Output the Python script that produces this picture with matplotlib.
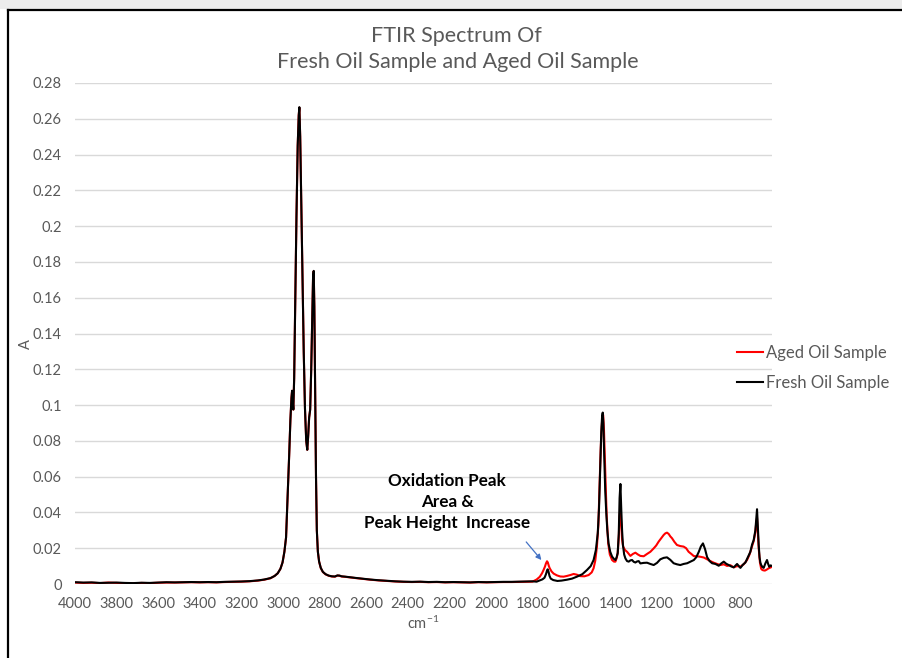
import matplotlib
matplotlib.use("Agg")
import matplotlib.pyplot as plt
from matplotlib.lines import Line2D
from matplotlib.patches import Rectangle

plt.rcParams['font.family'] = ['Lato', 'DejaVu Sans']
plt.rcParams['mathtext.fontset'] = 'custom'
plt.rcParams['mathtext.rm'] = 'Lato'
plt.rcParams['mathtext.it'] = 'Lato:italic'

# ---------------- data ----------------
title_lines = ["FTIR Spectrum Of", "Fresh Oil Sample and Aged Oil Sample"]
series_names = ["Aged Oil Sample", "Fresh Oil Sample"]
x_label = "cm$^{-1}$"
y_label = "A"
x_ticks = [4000, 3800, 3600, 3400, 3200, 3000, 2800, 2600, 2400, 2200,
           2000, 1800, 1600, 1400, 1200, 1000, 800]
y_ticks = [0, 0.02, 0.04, 0.06, 0.08, 0.1, 0.12, 0.14, 0.16, 0.18, 0.2,
           0.22, 0.24, 0.26, 0.28]
y_tick_labels = ["0", "0.02", "0.04", "0.06", "0.08", "0.1", "0.12", "0.14",
                 "0.16", "0.18", "0.2", "0.22", "0.24", "0.26", "0.28"]
annotation_text = "Oxidation Peak\nArea &\nPeak Height  Increase"

# high-wavenumber region (both samples nearly identical)
wn_high = [4000, 3960, 3920, 3880, 3840, 3800, 3760, 3720, 3680, 3640, 3600,
           3560, 3520, 3480, 3440, 3400, 3360, 3320, 3280, 3240, 3200, 3160,
           3120, 3090, 3060, 3040, 3025, 3012, 3002, 2993, 2985, 2977, 2970,
           2964, 2959, 2956, 2953, 2950, 2946, 2941, 2935, 2929, 2924, 2921,
           2917, 2912, 2906, 2900, 2894, 2888, 2883, 2879, 2874, 2869, 2864,
           2859, 2855, 2852, 2849, 2845, 2841, 2837, 2832, 2826, 2818, 2808,
           2795, 2780, 2765, 2750, 2738, 2728, 2718, 2700, 2680, 2650, 2620,
           2580, 2540, 2500, 2460, 2420, 2380, 2340, 2300, 2260, 2220, 2180,
           2140, 2100, 2060, 2020, 1980, 1940, 1900, 1860, 1820]
fresh_a_high = [0.0010, 0.0008, 0.0009, 0.0006, 0.0007, 0.0008, 0.0006, 0.0005,
                0.0007, 0.0006, 0.0008, 0.0010, 0.0009, 0.0010, 0.0011, 0.0010,
                0.0011, 0.0010, 0.0012, 0.0013, 0.0014, 0.0016, 0.0020, 0.0025,
                0.0033, 0.0045, 0.0060, 0.0085, 0.0120, 0.0180, 0.0260, 0.0500,
                0.0720, 0.0920, 0.1040, 0.1080, 0.1020, 0.0975, 0.1150, 0.1550,
                0.2050, 0.2450, 0.2620, 0.2665, 0.2500, 0.2150, 0.1700, 0.1300,
                0.0980, 0.0800, 0.0750, 0.0820, 0.0930, 0.0975, 0.1200, 0.1500,
                0.1720, 0.1750, 0.1550, 0.1050, 0.0600, 0.0300, 0.0180, 0.0125,
                0.0090, 0.0068, 0.0055, 0.0047, 0.0043, 0.0042, 0.0048, 0.0047,
                0.0043, 0.0041, 0.0038, 0.0034, 0.0030, 0.0025, 0.0021, 0.0018,
                0.0015, 0.0013, 0.0012, 0.0013, 0.0011, 0.0012, 0.0010, 0.0011,
                0.0010, 0.0009, 0.0011, 0.0010, 0.0011, 0.0012, 0.0012, 0.0013,
                0.0014]
aged_a_high = [0.0008, 0.0006, 0.0007, 0.0005, 0.0008, 0.0006, 0.0005, 0.0004,
               0.0006, 0.0005, 0.0007, 0.0008, 0.0008, 0.0009, 0.0010, 0.0009,
               0.0010, 0.0009, 0.0011, 0.0012, 0.0013, 0.0015, 0.0019, 0.0024,
               0.0032, 0.0045, 0.0060, 0.0085, 0.0120, 0.0180, 0.0260, 0.0500,
               0.0720, 0.0920, 0.1040, 0.1080, 0.1020, 0.0975, 0.1150, 0.1550,
               0.2050, 0.2450, 0.2620, 0.2662, 0.2500, 0.2150, 0.1700, 0.1300,
               0.0980, 0.0800, 0.0750, 0.0820, 0.0930, 0.0975, 0.1200, 0.1500,
               0.1720, 0.1748, 0.1550, 0.1050, 0.0600, 0.0300, 0.0180, 0.0125,
               0.0089, 0.0067, 0.0054, 0.0046, 0.0042, 0.0041, 0.0047, 0.0046,
               0.0042, 0.0040, 0.0037, 0.0033, 0.0029, 0.0024, 0.0020, 0.0017,
               0.0014, 0.0012, 0.0011, 0.0012, 0.0010, 0.0011, 0.0009, 0.0010,
               0.0009, 0.0008, 0.0010, 0.0009, 0.0010, 0.0011, 0.0011, 0.0012,
               0.0013]

# fingerprint region, fresh oil
fresh_wn_low = [1800, 1780, 1765, 1752, 1742, 1735, 1730, 1727, 1723, 1718,
                1712, 1700, 1680, 1660, 1634, 1610, 1586, 1560, 1538, 1520,
                1506, 1495, 1486, 1480, 1474, 1469, 1465, 1462, 1459, 1455,
                1450, 1445, 1440, 1434, 1426, 1417, 1408, 1401, 1395, 1390,
                1385, 1381, 1377, 1373, 1369, 1365, 1359, 1353, 1345, 1337,
                1329, 1321, 1313, 1305, 1297, 1289, 1281, 1265, 1249, 1233,
                1217, 1201, 1185, 1169, 1153, 1137, 1121, 1105, 1089, 1073,
                1056, 1040, 1024, 1012, 1000, 990, 980, 970, 960, 948, 936,
                920, 904, 892, 880, 868, 856, 844, 832, 816, 800, 788, 776,
                764, 752, 744, 736, 728, 724, 720, 716, 712, 708, 704, 700,
                694, 688, 680, 672, 666, 661, 655, 648]
fresh_a_low = [0.0015, 0.0013, 0.0020, 0.0026, 0.0035, 0.0055, 0.0075, 0.0082,
               0.0070, 0.0045, 0.0030, 0.0022, 0.0017, 0.0019, 0.0024, 0.0030,
               0.0041, 0.0055, 0.0078, 0.0100, 0.0134, 0.0190, 0.0283, 0.0420,
               0.0656, 0.0850, 0.0940, 0.0958, 0.0900, 0.0720, 0.0520, 0.0397,
               0.0300, 0.0227, 0.0180, 0.0153, 0.0140, 0.0134, 0.0150, 0.0173,
               0.0280, 0.0480, 0.0559, 0.0420, 0.0300, 0.0220, 0.0165, 0.0143,
               0.0128, 0.0125, 0.0132, 0.0134, 0.0124, 0.0120, 0.0126, 0.0128,
               0.0115, 0.0118, 0.0119, 0.0112, 0.0106, 0.0118, 0.0138, 0.0146,
               0.0149, 0.0135, 0.0116, 0.0110, 0.0106, 0.0112, 0.0116, 0.0125,
               0.0134, 0.0150, 0.0180, 0.0210, 0.0227, 0.0195, 0.0150, 0.0128,
               0.0116, 0.0112, 0.0102, 0.0115, 0.0125, 0.0113, 0.0106, 0.0098,
               0.0093, 0.0112, 0.0090, 0.0108, 0.0120, 0.0150, 0.0180, 0.0220,
               0.0246, 0.0300, 0.0360, 0.0418, 0.0320, 0.0220, 0.0150, 0.0120,
               0.0106, 0.0095, 0.0090, 0.0115, 0.0134, 0.0110, 0.0096, 0.0104,
               0.0101]

# fingerprint region, aged oil
aged_wn_low = [1800, 1780, 1765, 1754, 1746, 1740, 1735, 1730, 1726, 1721,
               1717, 1708, 1698, 1682, 1666, 1650, 1634, 1618, 1602, 1586,
               1570, 1550, 1530, 1515, 1506, 1498, 1490, 1483, 1477, 1472,
               1467, 1463, 1460, 1456, 1452, 1447, 1443, 1436, 1428, 1417,
               1408, 1401, 1395, 1390, 1385, 1381, 1377, 1373, 1369, 1364,
               1355, 1345, 1337, 1329, 1317, 1305, 1293, 1281, 1265, 1249,
               1233, 1217, 1205, 1193, 1181, 1169, 1161, 1153, 1145, 1137,
               1129, 1117, 1105, 1089, 1073, 1061, 1049, 1036, 1024, 1008,
               992, 976, 960, 944, 928, 912, 896, 880, 864, 848, 832, 816,
               800, 784, 768, 756, 744, 736, 728, 724, 720, 716, 712, 706,
               700, 694, 688, 682, 674, 665, 656, 648]
aged_a_low = [0.0013, 0.0025, 0.0040, 0.0060, 0.0080, 0.0097, 0.0115, 0.0127,
              0.0120, 0.0100, 0.0088, 0.0070, 0.0058, 0.0048, 0.0042, 0.0041,
              0.0045, 0.0050, 0.0056, 0.0052, 0.0044, 0.0043, 0.0050, 0.0065,
              0.0088, 0.0130, 0.0209, 0.0330, 0.0560, 0.0750, 0.0880, 0.0940,
              0.0945, 0.0860, 0.0700, 0.0520, 0.0380, 0.0230, 0.0165, 0.0134,
              0.0125, 0.0125, 0.0145, 0.0173, 0.0260, 0.0380, 0.0420, 0.0330,
              0.0250, 0.0209, 0.0190, 0.0180, 0.0168, 0.0157, 0.0168, 0.0175,
              0.0165, 0.0157, 0.0155, 0.0168, 0.0180, 0.0199, 0.0215, 0.0237,
              0.0255, 0.0274, 0.0283, 0.0287, 0.0280, 0.0266, 0.0256, 0.0235,
              0.0218, 0.0212, 0.0209, 0.0200, 0.0180, 0.0168, 0.0156, 0.0155,
              0.0152, 0.0148, 0.0138, 0.0128, 0.0119, 0.0112, 0.0106, 0.0110,
              0.0101, 0.0105, 0.0093, 0.0100, 0.0097, 0.0110, 0.0134, 0.0165,
              0.0209, 0.0240, 0.0290, 0.0340, 0.0370, 0.0290, 0.0200, 0.0120,
              0.0085, 0.0078, 0.0076, 0.0075, 0.0080, 0.0087, 0.0092, 0.0096]

# annotation arrow (data coordinates)
arrow_tail = (1830, 0.0235)
arrow_head = (1757, 0.0134)

# ---------------- plot ----------------
W, H = 902, 658
fig = plt.figure(figsize=(W / 100, H / 100), dpi=100)

# chart frame (Excel style)
fig.patches.append(Rectangle((0, 1 - 9 / H), 1, 9 / H, transform=fig.transFigure,
                             facecolor='#ececec', edgecolor='none', zorder=0))
fig.add_artist(Line2D([8 / W, 8 / W], [0, 1 - 10 / H], color='black', lw=1.6,
                      transform=fig.transFigure))
fig.add_artist(Line2D([8 / W, 1], [1 - 10 / H, 1 - 10 / H], color='black', lw=1.6,
                      transform=fig.transFigure))

ax = fig.add_axes([75 / W, 1 - 584 / H, (772 - 75) / W, (584 - 83) / H])

aged_wn = wn_high + aged_wn_low
aged_a = aged_a_high + aged_a_low
fresh_wn = wn_high + fresh_wn_low
fresh_a = fresh_a_high + fresh_a_low

l_aged, = ax.plot(aged_wn, aged_a, color='#ff0000', lw=1.5, zorder=3)
l_fresh, = ax.plot(fresh_wn, fresh_a, color='#000000', lw=1.5, zorder=4)

ax.set_xlim(4000, 648)
ax.set_ylim(0, 0.28)
ax.set_xticks(x_ticks)
ax.set_xticklabels([str(t) for t in x_ticks])
ax.set_yticks(y_ticks)
ax.set_yticklabels(y_tick_labels)
ax.tick_params(axis='both', length=0, labelsize=10.5, labelcolor='#595959')
ax.tick_params(axis='x', pad=9)
ax.tick_params(axis='y', pad=9.5)
ax.grid(axis='y', color='#d9d9d9', lw=1)
ax.set_axisbelow(True)
for s in ax.spines.values():
    s.set_visible(False)

# titles and labels
fig.text(456 / W, 1 - 36 / H, title_lines[0], ha='center', va='center',
         fontsize=15.5, color='#595959')
fig.text(458 / W, 1 - 62 / H, title_lines[1], ha='center', va='center',
         fontsize=15.5, color='#595959')
fig.text(26 / W, 1 - 344 / H, y_label, rotation=90, ha='center', va='center',
         fontsize=10.5, color='#595959')
fig.text(423 / W, 1 - 623 / H, x_label, ha='center', va='center',
         fontsize=10.5, color='#595959')

# annotation
fig.text(447 / W, 1 - 502 / H, annotation_text, ha='center', va='center',
         multialignment='center', fontsize=12.3, fontweight='bold', color='black',
         linespacing=1.42)
ax.annotate('', xy=arrow_head, xytext=arrow_tail,
            arrowprops=dict(arrowstyle='-|>', color='#4472C4', lw=0.9,
                            mutation_scale=8, shrinkA=0, shrinkB=0))

leg = fig.legend([l_aged, l_fresh], series_names, loc='center left',
                 bbox_to_anchor=(737 / W, 1 - 368 / H), frameon=False,
                 fontsize=12, handlelength=1.55, handletextpad=0.22,
                 labelspacing=0.85, borderpad=0, borderaxespad=0)
for t in leg.get_texts():
    t.set_color('#595959')
for h in leg.get_lines():
    h.set_linewidth(1.5)

fig.savefig('out.png', dpi=100)
